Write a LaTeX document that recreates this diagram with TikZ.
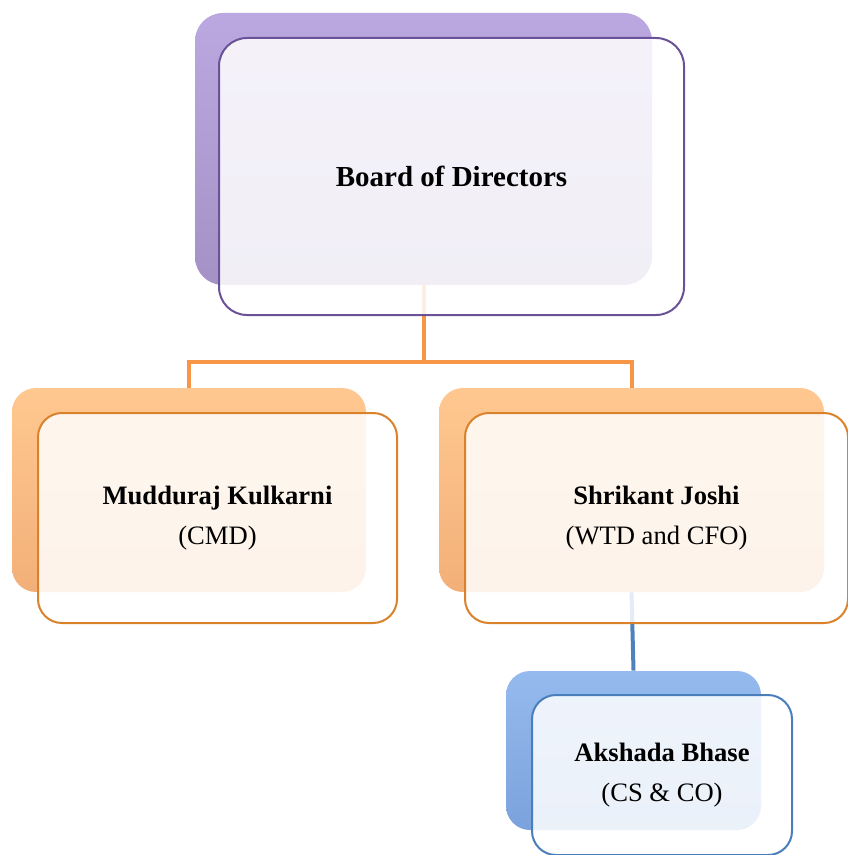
\documentclass[tikz,border=0pt]{standalone}
\usepackage{fontspec}
\setmainfont{Liberation Serif}
\definecolor{purtop}{HTML}{BBA8E0}
\definecolor{purbot}{HTML}{A492C6}
\definecolor{purln}{HTML}{6A5298}
\definecolor{orgtop}{HTML}{FFC890}
\definecolor{orgbot}{HTML}{F2B078}
\definecolor{orgln}{HTML}{D9822B}
\definecolor{orgcn}{HTML}{F79646}
\definecolor{blutop}{HTML}{95BAEE}
\definecolor{blubot}{HTML}{7BA2DC}
\definecolor{bluln}{HTML}{4A7EBB}
\definecolor{blucn}{HTML}{4F81BD}
\tikzset{orgp/.style={
  x=0.5pt,
  y=-0.5pt
}}
\tikzset{bkn/.style={
  shape=rectangle,
  rounded corners=12pt,
  inner sep=0pt
}}
\tikzset{frn/.style={
  draw,
  line width=1pt,
  fill=white,
  fill opacity=0.85,
  text opacity=1,
  shape=rectangle,
  rounded corners=12pt,
  align=center,
  inner sep=0pt,
  font=\fontsize{13.3}{20}\selectfont
}}
\tikzset{purbk/.style={bkn,top color=purtop,bottom color=purbot,rounded corners=14pt}}
\tikzset{orgbk/.style={bkn,top color=orgtop,bottom color=orgbot}}
\tikzset{blubk/.style={bkn,top color=blutop,bottom color=blubot}}
\tikzset{cnx/.style={line width=2pt}}

\begin{document}
\begin{tikzpicture}[orgp]
    \useasboundingbox (0,0) rectangle (847,855);

    % Back boxes
    \node[purbk,minimum width=228.5pt,minimum height=136pt] (bodbk) at (423.5,149) {};
    \node[orgbk,minimum width=177pt,minimum height=102pt] (mkbk) at (189,490) {};
    \node[orgbk,minimum width=192.5pt,minimum height=102pt] (sjbk) at (631.5,490) {};
    \node[blubk,minimum width=127.5pt,minimum height=79.5pt] (abbk) at (633.5,750.5) {};

    % Connectors
    \coordinate (split) at (423.5,362);
    \draw[cnx,orgcn] (bodbk.south) -- (split) -| (mkbk.north);
    \draw[cnx,orgcn] (split) -| (sjbk.north);
    \draw[cnx,blucn] (sjbk.south) -- (abbk.north);

    % Front boxes
    \node[frn,draw=purln,rounded corners=14pt,minimum width=232.5pt,minimum height=138.5pt,
      font=\fontsize{14.5}{18}\selectfont\bfseries] (bod) at (451.5,176.5) {Board of Directors};
    \node[frn,draw=orgln,minimum width=179.5pt,minimum height=105pt] (mk) at (217.5,518)
      {{\bfseries Mudduraj Kulkarni}\\(CMD)};
    \node[frn,draw=orgln,minimum width=191.5pt,minimum height=105pt] (sj) at (656.5,518)
      {{\bfseries Shrikant Joshi}\\(WTD and CFO)};
    \node[frn,draw=bluln,minimum width=130pt,minimum height=80pt] (ab) at (662,775)
      {{\bfseries Akshada Bhase}\\(CS \& CO)};

  \end{tikzpicture}
\end{document}
